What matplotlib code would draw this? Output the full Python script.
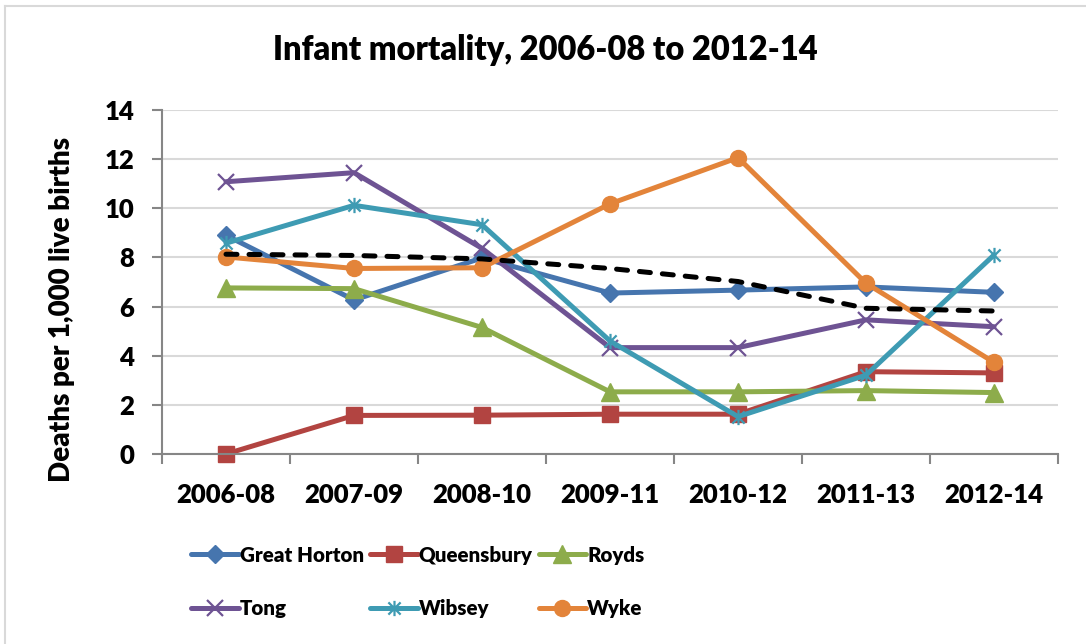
import os
import matplotlib
matplotlib.use("Agg")
import matplotlib.pyplot as plt
import matplotlib.path as mpath
from matplotlib import font_manager as fm
from matplotlib.lines import Line2D

categories = ["2006-08", "2007-09", "2008-10", "2009-11", "2010-12", "2011-13", "2012-14"]
great_horton = [8.9, 6.27, 7.98, 6.55, 6.67, 6.8, 6.58]
queensbury = [0.0, 1.57, 1.58, 1.62, 1.62, 3.35, 3.3]
royds = [6.76, 6.73, 5.15, 2.53, 2.53, 2.58, 2.5]
tong = [11.08, 11.45, 8.37, 4.33, 4.33, 5.46, 5.18]
wibsey = [8.58, 10.12, 9.33, 4.6, 1.52, 3.21, 8.1]
wyke = [8.02, 7.55, 7.58, 10.18, 12.06, 6.95, 3.73]
average = [8.13, 8.08, 7.94, 7.55, 7.02, 5.93, 5.82]
yticks = [0, 2, 4, 6, 8, 10, 12, 14]

FONT = "Lato"
WEIGHT = 800
plt.rcParams["font.family"] = FONT


def bold_font(size):
    cands = [f for f in fm.fontManager.ttflist
             if f.name == FONT and f.style == "normal" and f.weight in (WEIGHT, 700)]
    cands.sort(key=lambda f: (f.weight != WEIGHT, "semi" in os.path.basename(f.fname).lower()))
    if cands:
        return fm.FontProperties(fname=cands[0].fname, size=size)
    return fm.FontProperties(family=FONT, weight="bold", size=size)


fig = plt.figure(figsize=(10.86, 6.44), dpi=100)
ax = fig.add_axes([162 / 1086, 1 - 454 / 644, (1058 - 162) / 1086, (454 - 110) / 644])

# Excel-style asterisk marker
star = mpath.Path(
    [(-1, -1), (1, 1), (-1, 1), (1, -1), (0, -1.25), (0, 1.25)],
    [mpath.Path.MOVETO, mpath.Path.LINETO, mpath.Path.MOVETO, mpath.Path.LINETO,
     mpath.Path.MOVETO, mpath.Path.LINETO],
)

x = list(range(len(categories)))
lw = 3.6
series = [
    ("Great Horton", great_horton, "#4675AE", dict(marker="D", ms=9.5)),
    ("Queensbury", queensbury, "#B24441", dict(marker="s", ms=12)),
    ("Royds", royds, "#8DAC4B", dict(marker="^", ms=13)),
    ("Tong", tong, "#6E5393", dict(marker="x", ms=11, mew=1.6)),
    ("Wibsey", wibsey, "#3E9BB3", dict(marker=star, ms=11, mew=1.6, mfc="none")),
    ("Wyke", wyke, "#E3843A", dict(marker="o", ms=11.5)),
]
handles = []
for name, vals, col, mk in series:
    (h,) = ax.plot(x, vals, color=col, lw=lw, label=name, solid_joinstyle="round",
                   solid_capstyle="round", clip_on=False, **mk)
    handles.append(h)

ax.plot(x, average, color="black", lw=lw, dashes=(2.2, 2.4), dash_capstyle="round")

ax.set_xlim(-0.5, len(categories) - 0.5)
ax.set_ylim(0, 14)
ax.set_yticks(yticks)
ax.set_yticklabels([str(v) for v in yticks])
ax.yaxis.grid(True, color="#D9D9D9", lw=1.5)
ax.set_axisbelow(True)

ax.set_xticks(x)
ax.set_xticklabels(categories)
ax.set_xticks([i - 0.5 for i in range(len(categories) + 1)], minor=True)
ax.tick_params(axis="x", which="major", length=0, pad=21)
ax.tick_params(axis="x", which="minor", length=7, width=1.5, color="#868686", direction="out")
ax.tick_params(axis="y", length=7, width=1.5, color="#868686", pad=13)
for lab in ax.get_xticklabels() + ax.get_yticklabels():
    lab.set_fontproperties(bold_font(18.5))

for s in ["top", "right"]:
    ax.spines[s].set_visible(False)
for s in ["left", "bottom"]:
    ax.spines[s].set_color("#868686")
    ax.spines[s].set_linewidth(1.5)

fig.text(62 / 1086, 1 - 309 / 644, "Deaths per 1,000 live births", rotation=90,
         ha="center", va="center", fontproperties=bold_font(20))
fig.text(545 / 1086, 1 - 50 / 644, "Infant mortality, 2006-08 to 2012-14",
         ha="center", va="center", fontproperties=bold_font(23.5))

# legend: two rows, three columns, filled row by row
order = [0, 3, 1, 4, 2, 5]
leg = fig.legend(handles=[handles[i] for i in order], loc="center",
                 bbox_to_anchor=(418 / 1086, 1 - 582 / 644),
                 ncol=3, frameon=False, handlelength=2.3, handletextpad=0.06,
                 columnspacing=0.3, labelspacing=1.7,
                 prop=bold_font(14.8))

# chart border
fig.add_artist(Line2D([5 / 1086, 5 / 1086], [0, 1 - 6 / 644], transform=fig.transFigure,
                      color="#D9D9D9", lw=1.5))
fig.add_artist(Line2D([5 / 1086, 1], [1 - 6 / 644, 1 - 6 / 644], transform=fig.transFigure,
                      color="#D9D9D9", lw=1.5))

fig.savefig("out.png", dpi=100)
